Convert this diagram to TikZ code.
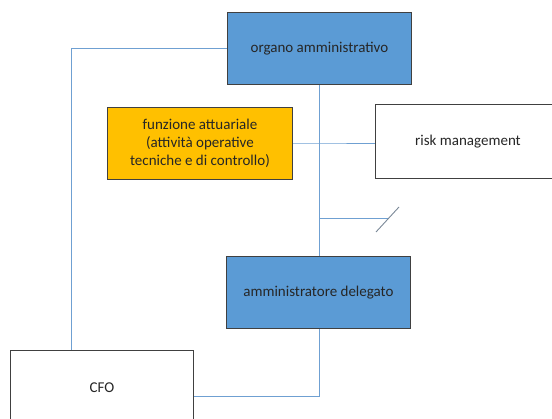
\documentclass[tikz,border=0pt]{standalone}
\usepackage{fontspec}
\setmainfont{Carlito}
\definecolor{boxblue}{HTML}{5B9BD5}
\definecolor{boxorange}{HTML}{FFC000}
\definecolor{linkblue}{HTML}{6FA0D2}
\definecolor{edgegray}{HTML}{404040}
\begin{document}
\begin{tikzpicture}[x=1pt,y=-1pt,
  box/.style={draw=edgegray,line width=0.9pt,anchor=north west,inner sep=0pt,align=center,font=\fontsize{15}{18}\selectfont,text=black!85},
  link/.style={draw=linkblue,line width=0.9pt}]
\useasboundingbox (0,0) rectangle (552,419);
\node[box,fill=boxblue,minimum width=184pt,minimum height=72pt] (org) at (227,12) {organo amministrativo};
\node[box,fill=boxorange,minimum width=185pt,minimum height=72pt] (fa) at (107,107) {funzione attuariale\\(attività operative\\tecniche e di controllo)};
\node[box,fill=white,minimum width=185pt,minimum height=74pt] (rm) at (375,104) {risk management};
\node[box,fill=boxblue,minimum width=184pt,minimum height=72pt] (ad) at (226,256) {amministratore delegato};
\node[box,fill=white,minimum width=183pt,minimum height=75pt] (cfo) at (10,350) {CFO};
\coordinate (j1) at (319,143);
\coordinate (j2) at (319,218);
\coordinate (j3) at (388,218);
\coordinate (s1) at (376,232);
\coordinate (s2) at (399,207);
\draw[link] (org.west) -| (cfo.north -| 71,0);
\draw[link] (org.south -| 319,0) -- (ad.north -| 319,0);
\draw[link] (fa.east |- j1) -- (j1) -- (rm.west |- j1);
\draw[link] (j2) -- (j3);
\draw[draw=gray!70!linkblue,line width=0.9pt] (s1) -- (s2);
\draw[link] (ad.south -| 319,0) |- (cfo.east |- 0,396);
\end{tikzpicture}
\end{document}
